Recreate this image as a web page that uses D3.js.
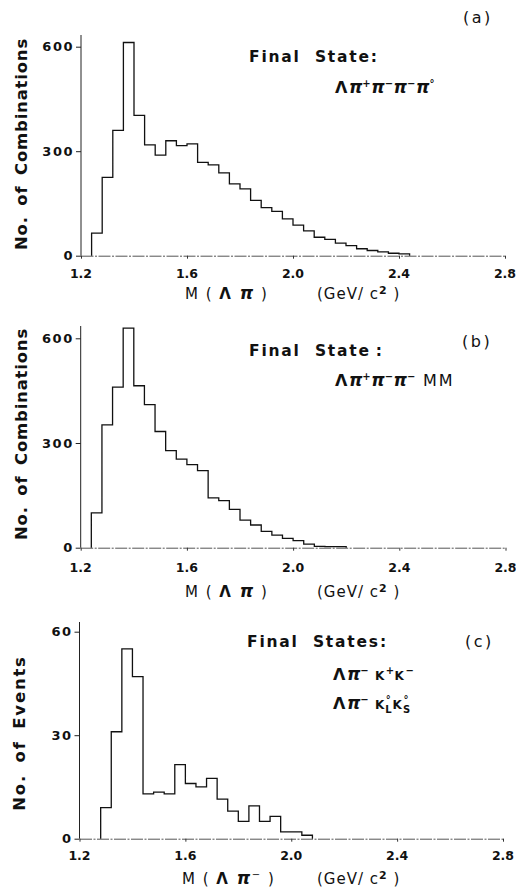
<!DOCTYPE html>
<html>
<head>
<meta charset="utf-8">
<script src="https://cdn.jsdelivr.net/npm/d3@7"></script>
<style>
  html, body { margin: 0; padding: 0; background: #fff; }
  svg { display: block; }
  text { font-family: "DejaVu Sans", "Liberation Sans", sans-serif; fill: #111; }
</style>
</head>
<body>
<script>
// ---- Data: invariant-mass histograms, 0.04 GeV/c^2 bins ----
const binWidth = 0.04;

// (a) Λπ+π−π−π0 final state, bins starting at 1.24
const binStartA = 1.24;
const countsA = [65, 225, 360, 612, 403, 318, 289, 330, 316, 321,
                 268, 261, 238, 206, 192, 159, 138, 127, 106, 88,
                 71, 53, 47, 36, 29, 20, 15, 11, 7, 5];

// (b) Λπ+π−π− MM final state, bins starting at 1.24
const binStartB = 1.24;
const countsB = [100, 352, 460, 629, 464, 410, 333, 278, 254, 238,
                 221, 143, 135, 110, 79, 65, 47, 36, 27, 20,
                 10, 4, 3, 3];

// (c) Λπ−K+K− and Λπ−K0L K0S final states, bins starting at 1.28
const binStartC = 1.28;
const countsC = [9, 31, 55, 47, 13, 13.5, 13, 21.5, 16, 15,
                 17.5, 11.5, 8, 5, 9.5, 5, 6.5, 2, 2, 1];

const xTicks = [1.2, 1.6, 2.0, 2.4, 2.8];
const yTicksComb = [0, 300, 600];
const yTicksEvents = [0, 30, 60];

// ---- Layout ----
const W = 516, H = 892;
const svg = d3.select("body").append("svg")
  .attr("width", W).attr("height", H)
  .attr("viewBox", `0 0 ${W} ${H}`);

const panels = [
  {
    tag: "(a)", start: binStartA, counts: countsA, yTicks: yTicksComb, yMax: 600,
    left: 81, right: 505, top: 46.7, bottom: 255.7, axisTop: 35,
    tagPos: [463, 23], titlePos: [249, 62], title: "Final State:",
    yLabel: "No. of Combinations", yLabelPos: [27, 144], yLabelSpacing: 0.8,
    tickBase: 278, xLabelBase: 299, xLabelStart: 185, unitStart: 317,
    piSign: "", formulaPos: [[335, 93]]
  },
  {
    tag: "(b)", start: binStartB, counts: countsB, yTicks: yTicksComb, yMax: 600,
    left: 80.7, right: 505.5, top: 338.3, bottom: 547.7, axisTop: 326,
    tagPos: [462, 347], titlePos: [249, 356], title: "Final State\u2009:",
    yLabel: "No. of Combinations", yLabelPos: [27, 434], yLabelSpacing: 0.8,
    tickBase: 572, xLabelBase: 597, xLabelStart: 185, unitStart: 317,
    piSign: "", formulaPos: [[335, 386]]
  },
  {
    tag: "(c)", start: binStartC, counts: countsC, yTicks: yTicksEvents, yMax: 60,
    left: 79.5, right: 503, top: 631.7, bottom: 838.7, axisTop: 622,
    tagPos: [465, 647], titlePos: [247, 647], title: "Final States:",
    yLabel: "No. of Events", yLabelPos: [25, 733], yLabelSpacing: 1.8,
    tickBase: 860, xLabelBase: 884, xLabelStart: 182, unitStart: 317,
    piSign: "−", formulaPos: [[333, 680], [333, 709]]
  }
];

// Formula pieces: [text, role]; role drives size / offset
const formulas = [
  [[
    ["Λ", "big"], ["π", "pi"], ["+", "sup"], ["π", "pi"], ["−", "sup"],
    ["π", "pi"], ["−", "sup"], ["π", "pi"], ["°", "sup"]
  ]],
  [[
    ["Λ", "big"], ["π", "pi"], ["+", "sup"], ["π", "pi"], ["−", "sup"],
    ["π", "pi"], ["−", "sup"], [" MM", "plain"]
  ]],
  [
    [["Λ", "big"], ["π", "pi"], ["−", "sup"], [" K", "k"], ["+", "sup"], ["K", "k"], ["−", "sup"]],
    [["Λ", "big"], ["π", "pi"], ["−", "sup"], [" K", "k"], ["°", "supo"], ["L", "sub"],
     ["K", "k"], ["°", "supo"], ["S", "sub"]]
  ]
];

function drawFormula(g, pieces, x, y) {
  const t = g.append("text").attr("x", x).attr("y", y)
    .attr("font-size", 16).attr("font-weight", "bold");
  let prevShift = 0;
  pieces.forEach(([s, role]) => {
    const ts = t.append("tspan").text(s);
    let size = 16, shift = 0, weight = "bold", style = "normal", ls = 1.5, dx = 0;
    if (role === "big") { size = 16; }
    if (role === "pi") { size = 17; style = "italic"; weight = "bold"; ls = 0; }
    if (role === "sup") { size = 10; shift = -6; ls = 0.5; }
    if (role === "supo") { size = 10; shift = -6; ls = 0; }
    if (role === "sub") { size = 10; shift = 4; ls = 1; dx = -5.5; }
    if (role === "k") { size = 12; }
    if (role === "plain") { size = 16; weight = "normal"; ls = 2; }
    ts.attr("font-size", size).attr("font-weight", weight)
      .attr("font-style", style).attr("letter-spacing", ls)
      .attr("dx", dx).attr("dy", shift - prevShift);
    prevShift = shift;
  });
}

panels.forEach((p, i) => {
  const g = svg.append("g");
  const x = d3.scaleLinear().domain([1.2, 2.8]).range([p.left, p.right]);
  const y = d3.scaleLinear().domain([0, p.yMax]).range([p.bottom, p.top]);

  // x axis along the zero line
  const xa = g.append("g").attr("transform", `translate(0,${p.bottom})`)
    .call(d3.axisBottom(x).tickValues(xTicks).tickSize(3).tickSizeOuter(0)
      .tickFormat(d3.format(".1f")));
  xa.select(".domain").attr("stroke", "#555").attr("stroke-width", 1)
    .attr("stroke-dasharray", "12,1.5,2,1.5");
  xa.selectAll(".tick line").attr("stroke", "#333");
  xa.selectAll(".tick text").remove();
  xTicks.forEach(v => {
    g.append("text").attr("x", x(v)).attr("y", p.tickBase)
      .attr("text-anchor", "middle").attr("font-size", 12.5).attr("font-weight", "bold")
      .text(d3.format(".1f")(v));
  });

  // y axis, running a little above the top tick
  g.append("line").attr("x1", x(1.2)).attr("x2", x(1.2))
    .attr("y1", p.axisTop).attr("y2", p.bottom)
    .attr("stroke", "#222").attr("stroke-width", 1);
  const ya = g.append("g").attr("transform", `translate(${x(1.2)},0)`)
    .call(d3.axisLeft(y).tickValues(p.yTicks).tickSize(5));
  ya.select(".domain").remove();
  ya.selectAll(".tick text").remove();
  ya.selectAll(".tick line").attr("stroke", "#222");
  p.yTicks.forEach(v => {
    g.append("text").attr("x", x(1.2) - 7).attr("y", y(v)).attr("dy", "0.36em")
      .attr("text-anchor", "end").attr("font-size", 13).attr("font-weight", "bold")
      .attr("letter-spacing", 1.5).text(v);
  });

  // histogram outline
  const pts = [[p.start, 0]];
  p.counts.forEach((c, k) => pts.push([p.start + k * binWidth, c]));
  pts.push([p.start + p.counts.length * binWidth, 0]);
  const line = d3.line().x(d => x(d[0])).y(d => y(d[1])).curve(d3.curveStepAfter);
  g.append("path").attr("d", line(pts))
    .attr("fill", "none").attr("stroke", "#111").attr("stroke-width", 1.3);

  // y label
  g.append("text")
    .attr("transform", `translate(${p.yLabelPos[0]},${p.yLabelPos[1]}) rotate(-90)`)
    .attr("text-anchor", "middle").attr("font-size", 16.5).attr("font-weight", "bold")
    .attr("letter-spacing", p.yLabelSpacing).attr("word-spacing", 4)
    .text(p.yLabel);

  // x label
  const xl = g.append("text").attr("x", p.xLabelStart).attr("y", p.xLabelBase)
    .attr("font-size", 15).attr("letter-spacing", 1.5);
  xl.append("tspan").text("M ( ");
  xl.append("tspan").text("Λ").attr("font-weight", "bold");
  xl.append("tspan").text(" π").attr("font-style", "italic").attr("font-weight", "bold").attr("font-size", 17);
  if (p.piSign) xl.append("tspan").text(p.piSign).attr("font-size", 10).attr("dy", -6);
  xl.append("tspan").text(p.piSign ? "  )" : "   )").attr("dy", p.piSign ? 6 : 0);
  const ul = g.append("text").attr("x", p.unitStart).attr("y", p.xLabelBase)
    .attr("font-size", 15).attr("letter-spacing", 1);
  ul.append("tspan").text("(GeV/ c");
  ul.append("tspan").text("2").attr("font-size", 11).attr("font-weight", "bold").attr("dy", -5);
  ul.append("tspan").text(" )").attr("dy", 5);

  // panel tag and final-state title
  g.append("text").attr("x", p.tagPos[0]).attr("y", p.tagPos[1])
    .attr("font-size", 16).attr("letter-spacing", 2.5).text(p.tag);
  g.append("text").attr("x", p.titlePos[0]).attr("y", p.titlePos[1])
    .attr("font-size", 15.5).attr("font-weight", "bold")
    .attr("letter-spacing", 1.8).attr("word-spacing", 7).text(p.title);

  formulas[i].forEach((f, j) => drawFormula(g, f, p.formulaPos[j][0], p.formulaPos[j][1]));
});
</script>
</body>
</html>
